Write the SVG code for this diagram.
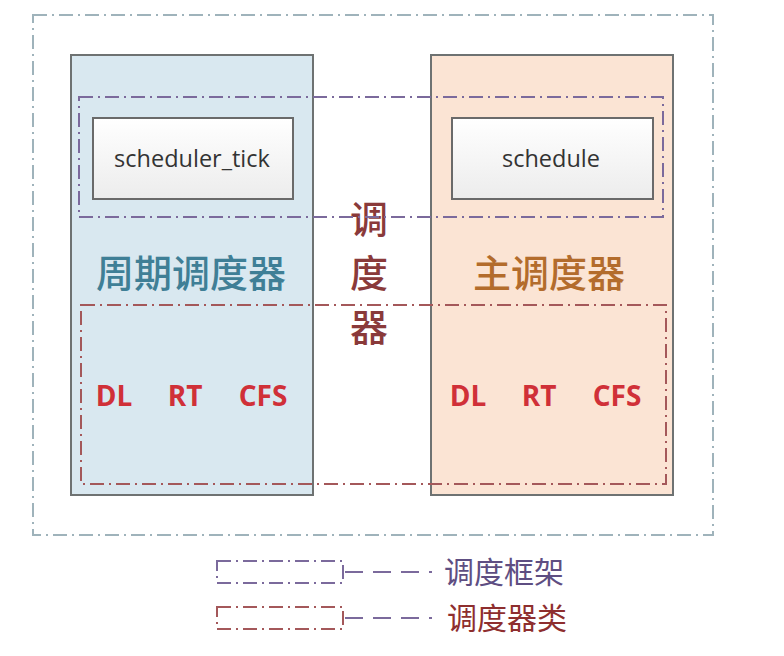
<svg xmlns="http://www.w3.org/2000/svg" width="784" height="656" viewBox="0 0 784 656">
<defs>
<linearGradient id="boxg" x1="0" y1="0" x2="0" y2="1">
<stop offset="0" stop-color="#ffffff"/>
<stop offset="1" stop-color="#ececec"/>
</linearGradient>
<style>
.dd{fill:none;stroke-width:2;stroke-dasharray:14 5 2 5}
.outer{stroke:#9fb3bb}
.pur{stroke:#7b6a9c}
.red{stroke:#a4585a}
.panel{stroke:#6e7272;stroke-width:2}
.fn{fill:url(#boxg);stroke:#6a6a6a;stroke-width:2}
.fnt{font-family:"Open Sans","Noto Sans",sans-serif;font-size:23.5px;fill:#333;text-anchor:middle}
.cls{font-family:"Open Sans","Noto Sans",sans-serif;font-weight:bold;font-size:28px;fill:#d03038;text-anchor:middle}
.cj{font-family:"Noto Sans CJK SC",sans-serif;font-weight:500;font-size:38px;text-anchor:middle}
.lg{font-family:"Noto Sans CJK SC",sans-serif;font-size:30px}
</style>
</defs>
<rect width="784" height="656" fill="#ffffff"/>
<g id="outer-frame"><rect class="dd outer" x="33" y="15" width="680" height="520"/></g>
<g id="periodic-scheduler">
<rect class="panel" x="71" y="55" width="242" height="440" fill="#d9e8f0"/>
<text class="cj" x="191" y="287" fill="#3f7f96">周期调度器</text>
</g>
<g id="main-scheduler">
<rect class="panel" x="431" y="55" width="242" height="440" fill="#fbe4d4"/>
<text class="cj" x="549" y="287" fill="#b36c2c">主调度器</text>
</g>
<g id="scheduler-label">
<text x="369" y="200" writing-mode="vertical-rl" letter-spacing="16" font-family="Noto Sans CJK SC, sans-serif" font-weight="500" font-size="38" fill="#8a3a3a">调度器</text>
</g>
<g id="framework-frame"><rect class="dd pur" x="79" y="97" width="584" height="120"/></g>
<g id="scheduler_tick">
<rect class="fn" x="93" y="118" width="200" height="81"/>
<text class="fnt" x="192" y="167">scheduler_tick</text>
</g>
<g id="schedule">
<rect class="fn" x="452" y="118" width="201" height="81"/>
<text class="fnt" x="551" y="167">schedule</text>
</g>
<g id="class-frame"><rect class="dd red" x="81" y="305" width="585" height="179"/></g>
<g id="classes-left">
<text class="cls" x="114" y="406">DL</text>
<text class="cls" x="185" y="406">RT</text>
<text class="cls" x="263" y="406">CFS</text>
</g>
<g id="classes-right">
<text class="cls" x="468" y="406">DL</text>
<text class="cls" x="539" y="406">RT</text>
<text class="cls" x="617" y="406">CFS</text>
</g>
<g id="connectors"></g>
<g id="legend">
<rect class="dd pur" x="217" y="561" width="126" height="22" stroke-dasharray="10 5 2 5"/>
<line x1="345" y1="572" x2="432" y2="572" stroke="#7b6a9c" stroke-width="2" stroke-dasharray="18 10"/>
<text class="lg" x="444" y="583" fill="#5e4e82">调度框架</text>
<rect class="dd red" x="217" y="607" width="126" height="22" stroke-dasharray="10 5 2 5"/>
<line x1="345" y1="618" x2="432" y2="618" stroke="#7b6a9c" stroke-width="2" stroke-dasharray="18 10"/>
<text class="lg" x="447" y="629" fill="#8e2e2e">调度器类</text>
</g>
</svg>
